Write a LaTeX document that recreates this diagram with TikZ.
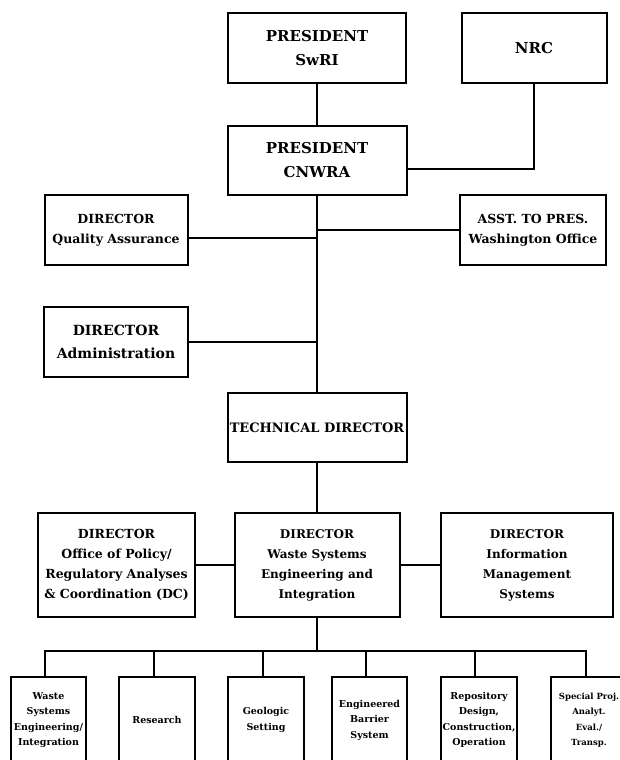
\documentclass[tikz,border=0pt]{standalone}
\usepackage{fontspec}
\setmainfont{DejaVu Serif}
\usepackage{tikz}

\tikzset{
    box/.style={draw, rectangle, line width=2pt, align=center, inner sep=0pt},
    topbox/.style={box, minimum width=178pt, minimum height=70pt, font=\fontsize{15}{24}\selectfont\bfseries},
    sidebox/.style={box, minimum width=143pt, minimum height=70pt, font=\fontsize{12.5}{20}\selectfont\bfseries},
    midbox/.style={box, minimum height=104pt, font=\fontsize{12}{20}\selectfont\bfseries},
    unitbox/.style={box, minimum width=76pt, minimum height=86pt, font=\fontsize{9.5}{15.5}\selectfont\bfseries}
}

\begin{document}
\begin{tikzpicture}[x=1pt, y=-1pt, line width=2pt]
            \useasboundingbox (0, 0) rectangle (620, 760);
            \clip (0, 0) rectangle (620, 760);
            \node (swri) at (317, 48) [topbox] {PRESIDENT\\SwRI};
            \node (nrc) at (534, 48) [topbox, minimum width=145pt] {NRC};
            \node (cnwra) at (317, 160.5) [topbox, minimum width=179pt, minimum height=69pt] {PRESIDENT\\CNWRA};
            \node (qa) at (116, 230) [sidebox] {DIRECTOR\\Quality Assurance};
            \node (wash) at (533, 230) [sidebox, minimum width=146pt] {ASST. TO PRES.\\Washington Office};
            \node (admin) at (116, 342) [sidebox, minimum width=144pt, font=\fontsize{14}{23}\selectfont\bfseries] {DIRECTOR\\Administration};
            \node (tech) at (317, 427.5) [topbox, minimum width=179pt, minimum height=69pt, font=\fontsize{13}{20}\selectfont\bfseries] {TECHNICAL DIRECTOR};
            \node (pol) at (116.5, 565) [midbox, minimum width=157pt, font=\fontsize{12.5}{20}\selectfont\bfseries] {DIRECTOR\\Office of Policy/\\Regulatory Analyses\\\& Coordination (DC)};
            \node (wsei) at (317, 565) [midbox, minimum width=165pt] {DIRECTOR\\Waste Systems\\Engineering and\\Integration};
            \node (ims) at (527, 565) [midbox, minimum width=172pt] {DIRECTOR\\Information\\Management\\Systems};
            \node (wse) at (48.5, 720) [unitbox, minimum width=75pt] {Waste\\Systems\\Engineering/\\Integration};
            \node (res) at (157, 720) [unitbox] {Research};
            \node (geo) at (266, 720) [unitbox] {Geologic\\Setting};
            \node (ebs) at (369.5, 720) [unitbox, minimum width=75pt] {Engineered\\Barrier\\System};
            \node (rep) at (479, 720) [unitbox] {Repository\\Design,\\Construction,\\Operation};
            \node (spa) at (589, 720) [unitbox, font=\fontsize{8.5}{15.5}\selectfont\bfseries] {Special Proj.\\Analyt.\\Eval./\\Transp.};
            \coordinate (qaend) at ([yshift=-8pt]qa.east);
            \coordinate (nrcend) at ([yshift=-8.5pt]cnwra.east);
            \coordinate (bus) at (317, 651);
            \draw [] (swri) -- (cnwra);
            \draw [] (nrc.south) |- (nrcend);
            \draw [] (cnwra) -- (tech);
            \draw [] (qaend) -- (qaend -| cnwra.south);
            \draw [] (wash.west) -- (wash.west -| cnwra.south);
            \draw [] (admin.east) -- (admin.east -| tech.north);
            \draw [] (tech) -- (wsei);
            \draw [] (pol) -- (wsei);
            \draw [] (ims) -- (wsei);
            \draw [] (wsei.south) -- (bus);
            \draw [] ([xshift=-3.5pt]wse.north) |- (bus);
            \draw [] ([xshift=-3pt]res.north) |- (bus);
            \draw [] ([xshift=-3pt]geo.north) |- (bus);
            \draw [] ([xshift=-3.5pt]ebs.north) |- (bus);
            \draw [] ([xshift=-4pt]rep.north) |- (bus);
            \draw [] ([xshift=-3pt]spa.north) |- (bus);
        \end{tikzpicture}
\end{document}
